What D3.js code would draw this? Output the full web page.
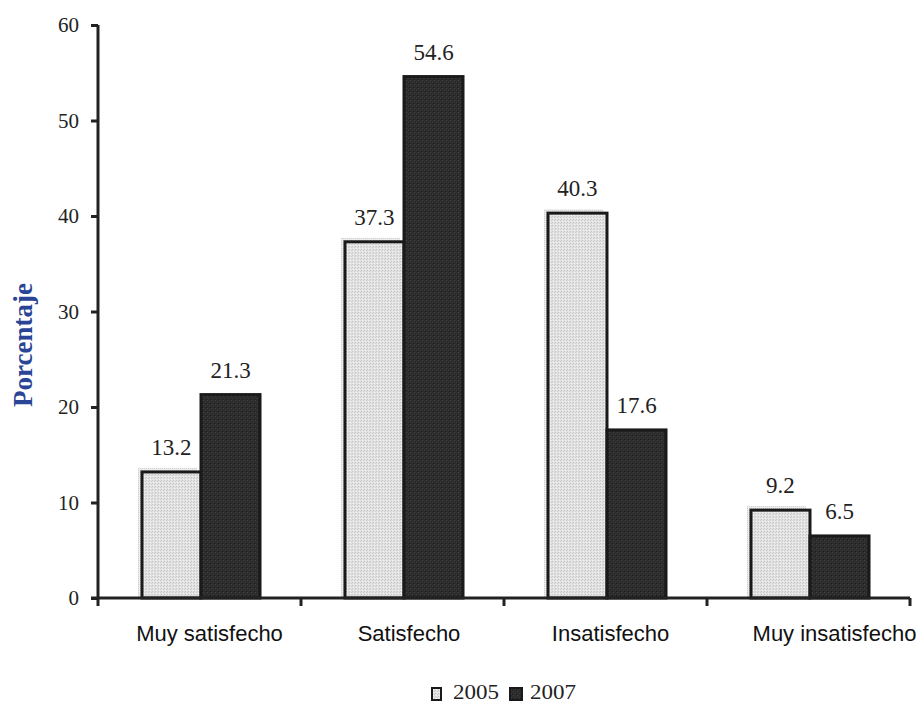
<!DOCTYPE html>
<html>
<head>
<meta charset="utf-8">
<script src="https://cdn.jsdelivr.net/npm/d3@7"></script>
<style>
  html, body { margin: 0; padding: 0; background: #fff; }
  svg { display: block; }
</style>
</head>
<body>
<svg id="chart" width="920" height="705"></svg>
<script>
// Satisfaction levels and share of respondents (%) per survey year
const categories = ["Muy satisfecho", "Satisfecho", "Insatisfecho", "Muy insatisfecho"];
const years = ["2005", "2007"];
const values2005 = [13.2, 37.3, 40.3, 9.2];
const values2007 = [21.3, 54.6, 17.6, 6.5];
const yTicks = [0, 10, 20, 30, 40, 50, 60];

const svg = d3.select("#chart");
const margin = { left: 98, right: 10, top: 25, bottom: 107 };
const W = 920, H = 705;
const axisColor = "#222";
const serif = "'Liberation Serif', 'Times New Roman', serif";

const x = d3.scaleBand().domain(categories).range([margin.left, W - margin.right]).paddingInner(0).paddingOuter(0);
const xs = d3.scaleBand().domain(years).range([1.5, x.bandwidth() + 1.5]).paddingInner(0).paddingOuter(0.72);
const y = d3.scaleLinear().domain([0, 60]).range([H - margin.bottom, margin.top]);

const defs = svg.append("defs");
// fine grain texture for the light bars
const pl = defs.append("pattern").attr("id", "lightFill").attr("patternUnits", "userSpaceOnUse")
  .attr("width", 3).attr("height", 3);
pl.append("rect").attr("width", 3).attr("height", 3).attr("fill", "#e2e2e2");
pl.append("rect").attr("x", 0).attr("y", 0).attr("width", 1).attr("height", 1).attr("fill", "#c4c4c4");
pl.append("rect").attr("x", 2).attr("y", 1).attr("width", 1).attr("height", 1).attr("fill", "#cdcdcd");
pl.append("rect").attr("x", 1).attr("y", 2).attr("width", 1).attr("height", 1).attr("fill", "#f2f2f2");
// grain texture for the dark bars
const pd = defs.append("pattern").attr("id", "darkFill").attr("patternUnits", "userSpaceOnUse")
  .attr("width", 4).attr("height", 4);
pd.append("rect").attr("width", 4).attr("height", 4).attr("fill", "#2c2c2c");
pd.append("rect").attr("x", 1).attr("y", 0).attr("width", 1).attr("height", 1).attr("fill", "#444");
pd.append("rect").attr("x", 3).attr("y", 2).attr("width", 1).attr("height", 1).attr("fill", "#3c3c3c");
pd.append("rect").attr("x", 0).attr("y", 3).attr("width", 1).attr("height", 1).attr("fill", "#1c1c1c");
// soft shadow grain around light bars
const ps = defs.append("pattern").attr("id", "shadowFill").attr("patternUnits", "userSpaceOnUse")
  .attr("width", 2).attr("height", 2);
ps.append("rect").attr("width", 2).attr("height", 2).attr("fill", "#ececec");
ps.append("rect").attr("width", 1).attr("height", 1).attr("fill", "#cfcfcf");

const rows = categories.map((c, i) => ({ cat: c, v: [values2005[i], values2007[i]] }));

const groups = svg.append("g").selectAll("g").data(rows).join("g")
  .attr("transform", d => `translate(${x(d.cat)},0)`);

// 2005 bars: shadow, then outlined light bar
groups.append("rect")
  .attr("x", d => xs("2005") - 4)
  .attr("y", d => y(d.v[0]) - 4)
  .attr("width", xs.bandwidth())
  .attr("height", d => y(0) - y(d.v[0]) + 4)
  .attr("fill", "url(#shadowFill)");
groups.append("rect")
  .attr("x", d => xs("2005"))
  .attr("y", d => y(d.v[0]))
  .attr("width", xs.bandwidth())
  .attr("height", d => y(0) - y(d.v[0]))
  .attr("fill", "url(#lightFill)")
  .attr("stroke", "#1a1a1a").attr("stroke-width", 3);
// 2007 bars
groups.append("rect")
  .attr("x", d => xs("2007"))
  .attr("y", d => y(d.v[1]))
  .attr("width", xs.bandwidth())
  .attr("height", d => y(0) - y(d.v[1]))
  .attr("fill", "url(#darkFill)")
  .attr("stroke", "#1a1a1a").attr("stroke-width", 3);

// value labels
years.forEach((yr, k) => {
  groups.append("text")
    .attr("x", d => xs(yr) + xs.bandwidth() / 2)
    .attr("y", d => y(d.v[k]) - 17)
    .attr("text-anchor", "middle")
    .attr("font-family", serif)
    .attr("font-size", 23)
    .attr("fill", "#222")
    .text(d => d.v[k].toFixed(1));
});

// y axis
const yAxis = svg.append("g").attr("transform", `translate(${margin.left},0)`)
  .call(d3.axisLeft(y).tickValues(yTicks).tickSize(7).tickPadding(12).tickFormat(d3.format("d")));
yAxis.select(".domain").attr("stroke", axisColor).attr("stroke-width", 3)
  .attr("d", `M0,${y(0)}V${y(60)}`);
yAxis.selectAll(".tick line").attr("stroke", axisColor).attr("stroke-width", 3);
yAxis.selectAll(".tick text")
  .attr("font-family", serif)
  .attr("font-size", 21).attr("fill", "#222");

// x axis with boundary ticks between categories
const xAxisG = svg.append("g");
xAxisG.append("line")
  .attr("x1", margin.left - 7).attr("x2", W - margin.right)
  .attr("y1", y(0)).attr("y2", y(0))
  .attr("stroke", axisColor).attr("stroke-width", 3);
const bounds = categories.map(c => x(c)).concat([x(categories[categories.length - 1]) + x.bandwidth()]);
xAxisG.selectAll("line.bt").data(bounds).join("line").attr("class", "bt")
  .attr("x1", d => d).attr("x2", d => d)
  .attr("y1", y(0)).attr("y2", y(0) + 8)
  .attr("stroke", axisColor).attr("stroke-width", 3);
// category labels sit slightly right of their band centres
const labelNudge = [10, 6.5, 5, 26];
xAxisG.selectAll("text").data(categories).join("text")
  .attr("x", (d, i) => x(d) + x.bandwidth() / 2 + labelNudge[i])
  .attr("y", y(0) + 43)
  .attr("text-anchor", "middle")
  .attr("font-family", "'Liberation Sans', Arial, sans-serif")
  .attr("font-size", 22)
  .attr("fill", "#111")
  .text(d => d);

// y axis title
svg.append("text")
  .attr("transform", `translate(32,345) rotate(-90)`)
  .attr("text-anchor", "middle")
  .attr("font-family", serif)
  .attr("font-weight", "bold")
  .attr("font-size", 27)
  .attr("fill", "#2b4596")
  .text("Porcentaje");

// legend
const legend = svg.append("g").attr("transform", "translate(0,699)");
const legendItems = [
  { label: "2005", fill: "url(#lightFill)", sx: 432, sw: 9, tx: 453 },
  { label: "2007", fill: "url(#darkFill)", sx: 510, sw: 12, tx: 530 }
];
legendItems.forEach(it => {
  legend.append("rect").attr("x", it.sx).attr("y", -11).attr("width", it.sw).attr("height", 12)
    .attr("fill", it.fill).attr("stroke", "#1a1a1a").attr("stroke-width", 2);
  legend.append("text").attr("x", it.tx).attr("y", 0)
    .attr("font-family", serif)
    .attr("font-size", 20).attr("fill", "#222")
    .attr("textLength", 46).attr("lengthAdjust", "spacingAndGlyphs")
    .text(it.label);
});
</script>
</body>
</html>
